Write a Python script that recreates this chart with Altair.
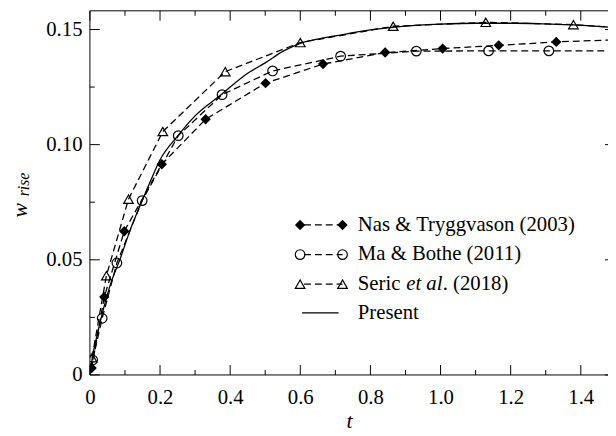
import altair as alt
import pandas as pd

# ---------------- data ----------------
nas_t = [0.005, 0.041, 0.098, 0.205, 0.330, 0.501, 0.665, 0.842, 1.006, 1.166, 1.330, 1.500]
nas_w = [0.0030, 0.0339, 0.0624, 0.0915, 0.1110, 0.1267, 0.1350, 0.1400, 0.1417, 0.1431, 0.1446, 0.1455]

ma_t = [0.008, 0.035, 0.077, 0.149, 0.252, 0.377, 0.521, 0.715, 0.931, 1.137, 1.309, 1.500]
ma_w = [0.0065, 0.0246, 0.0486, 0.0757, 0.1039, 0.1217, 0.1320, 0.1384, 0.1406, 0.1407, 0.1407, 0.1407]

seric_t = [0.006, 0.047, 0.110, 0.208, 0.386, 0.600, 0.865, 1.129, 1.379, 1.500]
seric_w = [0.0075, 0.0431, 0.0763, 0.1057, 0.1317, 0.1443, 0.1514, 0.1531, 0.1521, 0.1508]

present_t = [0.0, 0.007, 0.02, 0.039, 0.06, 0.086, 0.115, 0.149, 0.175, 0.199, 0.25, 0.30,
             0.372, 0.45, 0.50, 0.55, 0.60, 0.65, 0.70, 0.80, 0.87, 1.0, 1.1, 1.215, 1.3,
             1.379, 1.478, 1.5]
present_w = [0.0, 0.0075, 0.0170, 0.0289, 0.0400, 0.0503, 0.0630, 0.0757, 0.0850, 0.0931,
             0.1037, 0.1125, 0.1214, 0.1310, 0.1355, 0.1405, 0.1440, 0.1458, 0.1472, 0.1498,
             0.1510, 0.1523, 0.1527, 0.1527, 0.1524, 0.1520, 0.1510, 0.1508]

x_major = [0.0, 0.2, 0.4, 0.6, 0.8, 1.0, 1.2, 1.4]
x_minor = [0.1, 0.3, 0.5, 0.7, 0.9, 1.1, 1.3]
y_major = [0.0, 0.05, 0.10, 0.15]
y_minor = [0.025, 0.075, 0.125]

legend_labels = ["Nas & Tryggvason (2003)", "Ma & Bothe (2011)", "Seric", "Present"]

# ---------------- layout ----------------
W, H = 525, 369
XMAX = 1.4776
YMAX = 0.1581
FONT = "Liberation Serif"
FS = 21

xs = alt.Scale(domain=[0, XMAX], nice=False, zero=False)
ys = alt.Scale(domain=[0, YMAX], nice=False, zero=False)

x_axis = alt.Axis(values=x_major,
                  labelExpr="datum.value == 0 ? '0' : format(datum.value, '.1f')",
                  ticks=False, domain=False, grid=False, labelFlush=False, labelOverlap=False,
                  labelFont=FONT, labelFontSize=FS, labelColor="black", labelPadding=12,
                  title="t", titleFont=FONT, titleFontStyle="italic", titleFontWeight="normal",
                  titleFontSize=22, titleColor="black", titlePadding=3)
y_axis = alt.Axis(values=y_major,
                  labelExpr="datum.value == 0 ? '0' : format(datum.value, '.2f')",
                  ticks=False, domain=False, grid=False, labelFlush=False, labelOverlap=False,
                  labelFont=FONT, labelFontSize=FS, labelColor="black", labelPadding=8,
                  title=None)


def X(field):
    return alt.X(f"{field}:Q", scale=xs, axis=x_axis)


def Y(field):
    return alt.Y(f"{field}:Q", scale=ys, axis=y_axis)


nas = pd.DataFrame({"t": nas_t, "w": nas_w})
ma = pd.DataFrame({"t": ma_t, "w": ma_w})
seric = pd.DataFrame({"t": seric_t, "w": seric_w})
present = pd.DataFrame({"t": present_t, "w": present_w})

DASH = [7, 4]
LW = 1.3

layers = []
# series
layers.append(alt.Chart(present).mark_line(color="black", strokeWidth=LW, clip=True,
                                           interpolate="monotone").encode(x=X("t"), y=Y("w")))
for df, shape, filled, size in [(nas, "diamond", True, 110), (ma, "circle", False, 95),
                                (seric, "triangle-up", False, 95)]:
    layers.append(alt.Chart(df).mark_line(color="black", strokeWidth=LW, strokeDash=DASH,
                                          clip=True).encode(x=X("t"), y=Y("w")))
    if filled:
        pt = alt.Chart(df).mark_point(shape=shape, filled=True, color="black", size=size,
                                      opacity=1, clip=True)
    else:
        pt = alt.Chart(df).mark_point(shape=shape, filled=False, color="black", size=size,
                                      strokeWidth=1.2, opacity=1, clip=True)
    layers.append(pt.encode(x=X("t"), y=Y("w")))

# frame
frame = pd.DataFrame({"t": [0.0]})
layers.append(alt.Chart(frame).mark_rule(color="black", strokeWidth=1).encode(
    x=alt.value(0), x2=alt.value(W), y=alt.value(0)))
layers.append(alt.Chart(frame).mark_rule(color="black", strokeWidth=1).encode(
    x=alt.value(0), x2=alt.value(W), y=alt.value(H)))
layers.append(alt.Chart(frame).mark_rule(color="black", strokeWidth=1).encode(
    x=alt.value(0), y=alt.value(0), y2=alt.value(H)))

# inward ticks
xM = pd.DataFrame({"t": x_major})
xm = pd.DataFrame({"t": x_minor})
yM = pd.DataFrame({"w": y_major})
ym = pd.DataFrame({"w": y_minor})
for df, ln in [(xM, 10), (xm, 5)]:
    layers.append(alt.Chart(df).mark_rule(color="black", strokeWidth=1).encode(
        x=X("t"), y=alt.value(H), y2=alt.value(H - ln)))
    layers.append(alt.Chart(df).mark_rule(color="black", strokeWidth=1).encode(
        x=X("t"), y=alt.value(0), y2=alt.value(ln)))
for df, ln in [(yM, 10), (ym, 5)]:
    layers.append(alt.Chart(df).mark_rule(color="black", strokeWidth=1).encode(
        y=Y("w"), x=alt.value(0), x2=alt.value(ln)))
layers.append(alt.Chart(yM).mark_rule(color="black", strokeWidth=1).encode(
    y=Y("w"), x=alt.value(W - 3), x2=alt.value(W)))

# y title  w_rise
one = pd.DataFrame({"a": [0]})
layers.append(alt.Chart(one).mark_text(text="w", font=FONT, fontStyle="italic", fontSize=22,
                                       angle=270, align="center", baseline="middle",
                                       color="black").encode(x=alt.value(-70.5), y=alt.value(202)))
layers.append(alt.Chart(one).mark_text(text="rise", font=FONT, fontStyle="italic", fontSize=16,
                                       angle=270, align="center", baseline="middle",
                                       color="black").encode(x=alt.value(-66.5), y=alt.value(176)))

# legend
rows = [217, 247, 277, 306]
LX0, LX1 = 213, 256
TX = 271.5
for i, (shape, filled) in enumerate([("diamond", True), ("circle", False), ("triangle-up", False)]):
    yv = rows[i]
    layers.append(alt.Chart(one).mark_rule(color="black", strokeWidth=LW, strokeDash=DASH,
                                           strokeDashOffset=-4).encode(
        x=alt.value(LX0), x2=alt.value(LX1), y=alt.value(yv)))
    size = [110, 95, 95][i]
    for px in [LX0, LX1]:
        layers.append(alt.Chart(one).mark_point(shape=shape, filled=filled, color="black",
                                                size=size, strokeWidth=1.2, opacity=1).encode(
            x=alt.value(px), y=alt.value(yv)))
layers.append(alt.Chart(one).mark_rule(color="black", strokeWidth=LW).encode(
    x=alt.value(215), x2=alt.value(252), y=alt.value(rows[3])))


def legend_text(txt, x, y, style="normal"):
    return alt.Chart(one).mark_text(text=txt, font=FONT, fontSize=FS, fontStyle=style,
                                    align="left", baseline="middle", color="black").encode(
        x=alt.value(x), y=alt.value(y))


layers.append(legend_text(legend_labels[0], TX, rows[0]))
layers.append(legend_text(legend_labels[1], TX, rows[1]))
layers.append(legend_text(legend_labels[2], TX, rows[2]))
layers.append(legend_text("et al", TX + 49, rows[2], "italic"))
layers.append(legend_text(". (2018)", TX + 86, rows[2]))
layers.append(legend_text(legend_labels[3], TX, rows[3]))

chart = alt.layer(*layers).properties(
    width=W, height=H, background="white",
    autosize=alt.AutoSizeParams(type="none"),
    padding={"left": 83, "top": 0, "right": 0, "bottom": 59},
).configure_view(stroke=None)

chart.save("out.html", embed_options={"renderer": "svg", "actions": False})
